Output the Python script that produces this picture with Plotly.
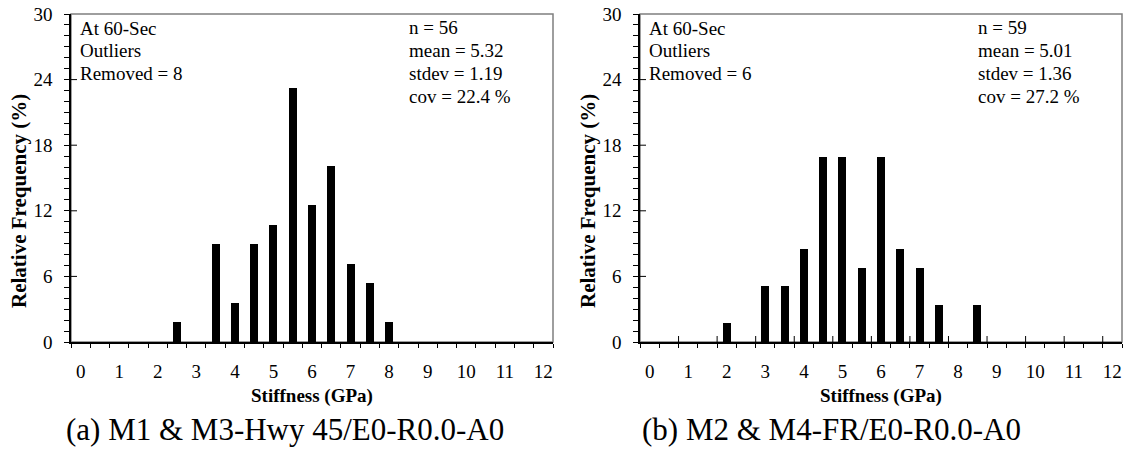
import plotly.graph_objects as go

W, H = 1128, 449

# Histogram data: bin centres (GPa) and specimen counts per bin
bins_a = [2.5, 3.5, 4.0, 4.5, 5.0, 5.5, 6.0, 6.5, 7.0, 7.5, 8.0]
counts_a = [1, 5, 2, 5, 6, 13, 7, 9, 4, 3, 1]
n_a = 56

bins_b = [2.0, 3.0, 3.5, 4.0, 4.5, 5.0, 5.5, 6.0, 6.5, 7.0, 7.5, 8.5]
counts_b = [1, 3, 3, 5, 10, 10, 4, 10, 5, 4, 2, 2]
n_b = 59

freq_a = [c / n_a * 100 for c in counts_a]
freq_b = [c / n_b * 100 for c in counts_b]

x_ticks = list(range(0, 13))
y_ticks = [0, 6, 12, 18, 24, 30]

notes_a = ["At 60-Sec", "Outliers", "Removed = 8"]
notes_b = ["At 60-Sec", "Outliers", "Removed = 6"]
stats_a = ["n = 56", "mean = 5.32", "stdev = 1.19", "cov = 22.4 %"]
stats_b = ["n = 59", "mean = 5.01", "stdev = 1.36", "cov = 27.2 %"]

x_title = "Stiffness (GPa)"
y_title = "Relative Frequency (%)"
caption_a = "(a) M1 &amp; M3-Hwy 45/E0-R0.0-A0"
caption_b = "(b) M2 &amp; M4-FR/E0-R0.0-A0"

FONT = "Liberation Serif, Times New Roman, serif"

# bin edges, 0.5 GPa wide
edges = [-0.25 + 0.5 * k for k in range(26)]


def px(x):
    return x / W


def py(y):
    return 1 - y / H


fig = go.Figure()
fig.add_trace(go.Bar(x=bins_a, y=freq_a, width=0.21, marker=dict(color="black", line=dict(width=0)),
                     xaxis="x", yaxis="y", showlegend=False))
fig.add_trace(go.Bar(x=bins_b, y=freq_b, width=0.21, marker=dict(color="black", line=dict(width=0)),
                     xaxis="x2", yaxis="y2", showlegend=False))

y_dom = [py(342), py(14)]
tickfont = dict(family=FONT, size=19, color="black")


def xaxis_cfg(domain, anchor):
    return dict(
        domain=domain, anchor=anchor, range=[-0.25, 12.25], automargin=False,
        tickmode="array", tickvals=x_ticks, ticktext=[str(v) for v in x_ticks],
        ticks="", ticklabelstandoff=11, tickfont=tickfont,
        showline=True, linecolor="black", linewidth=2,
        showgrid=False, zeroline=False,
        minor=dict(tickmode="array", tickvals=edges, ticks="outside", ticklen=4,
                   tickwidth=1, tickcolor="black", showgrid=False),
        fixedrange=True,
    )


def yaxis_cfg(anchor):
    return dict(
        domain=y_dom, anchor=anchor, range=[0, 30], automargin=False,
        tickmode="array", tickvals=list(range(0, 31)),
        ticktext=[str(v) if v in y_ticks else "" for v in range(0, 31)],
        ticks="outside", ticklen=5, tickwidth=1, tickcolor="black",
        ticklabelstandoff=8, tickfont=tickfont,
        showline=True, linecolor="black", linewidth=1.5,
        showgrid=False, zeroline=False, fixedrange=True,
    )


fig.update_layout(
    width=W, height=H,
    margin=dict(l=0, r=0, t=0, b=0, autoexpand=False),
    paper_bgcolor="white", plot_bgcolor="white",
    bargap=0,
    xaxis=xaxis_cfg([px(71), px(553)], "y"),
    yaxis=yaxis_cfg("x"),
    xaxis2=xaxis_cfg([px(640), px(1122)], "y2"),
    yaxis2=yaxis_cfg("x2"),
    font=dict(family=FONT, color="black"),
)

shapes = []
for xr, yr in (("x", "y"), ("x2", "y2")):
    # plot frame (top and right edges)
    shapes.append(dict(type="rect", xref=xr + " domain", yref=yr + " domain",
                       x0=0, x1=1, y0=0, y1=1, line=dict(color="#7f7f7f", width=1.5),
                       layer="below"))
    # inner part of the labelled y ticks
    for v in y_ticks[1:-1]:
        shapes.append(dict(type="line", xref=xr + " domain", yref=yr,
                           x0=0, x1=6 / 482, y0=v, y1=v,
                           line=dict(color="black", width=1)))
# upward tick marks on the right-hand x axis
for e in edges[2:-1:2]:
    shapes.append(dict(type="line", xref="x2", yref="y2 domain",
                       x0=e, x1=e, y0=0, y1=6 / 328,
                       line=dict(color="black", width=1)))
fig.update_layout(shapes=shapes)

ann = []
note_font = dict(family=FONT, size=19, color="black")
for left, notes, stats in ((71, notes_a, stats_a), (640, notes_b, stats_b)):
    for i, t in enumerate(notes):
        ann.append(dict(text=t, x=px(left + 7), y=py(28 + 23 * i), xref="paper", yref="paper",
                        xanchor="left", yanchor="middle", showarrow=False, font=note_font))
    for i, t in enumerate(stats):
        ann.append(dict(text=t, x=px(left + 335.5), y=py(27 + 23.3 * i), xref="paper", yref="paper",
                        xanchor="left", yanchor="middle", showarrow=False, font=note_font))
    # axis titles
    ann.append(dict(text="<b>" + x_title + "</b>", x=px(left + 241), y=py(396),
                    xref="paper", yref="paper", xanchor="center", yanchor="middle",
                    showarrow=False, font=dict(family=FONT, size=19, color="black")))
    ann.append(dict(text="<b>" + y_title + "</b>", x=px(left - 52), y=py(201),
                    xref="paper", yref="paper", xanchor="center", yanchor="middle",
                    textangle=-90, showarrow=False,
                    font=dict(family=FONT, size=21, color="black")))

ann.append(dict(text=caption_a, x=px(285), y=py(429), xref="paper", yref="paper",
                xanchor="center", yanchor="middle", showarrow=False,
                font=dict(family=FONT, size=31, color="black")))
ann.append(dict(text=caption_b, x=px(831), y=py(429), xref="paper", yref="paper",
                xanchor="center", yanchor="middle", showarrow=False,
                font=dict(family=FONT, size=31, color="black")))
fig.update_layout(annotations=ann)

fig.write_html("out.html")
